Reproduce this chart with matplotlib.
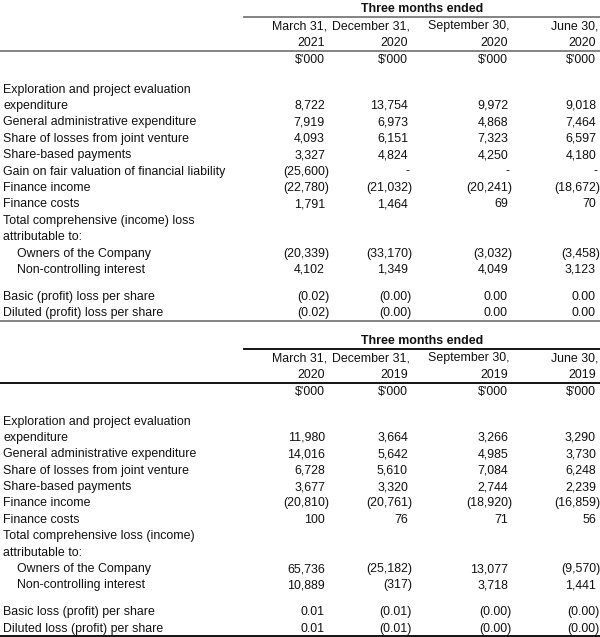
import numpy as np
import matplotlib.pyplot as plt

plt.rcParams['font.family'] = ['Liberation Sans', 'DejaVu Sans']

# ---- data: first table (periods ended 2020/2021) ----
top_months = ["March 31,", "December 31,", "September 30,", "June 30,"]
top_years = ["2021", "2020", "2020", "2020"]
top_items = ["Exploration and project evaluation\nexpenditure",
             "General administrative expenditure",
             "Share of losses from joint venture",
             "Share-based payments",
             "Gain on fair valuation of financial liability",
             "Finance income",
             "Finance costs",
             "Total comprehensive (income) loss\nattributable to:",
             "Owners of the Company",
             "Non-controlling interest",
             "Basic (profit) loss per share",
             "Diluted (profit) loss per share"]
# None = dash, -0.0 = "(0.00)"
mar21 = [8722, 7919, 4093, 3327, -25600, -22780, 1791, None, -20339, 4102, -0.02, -0.02]
dec20 = [13754, 6973, 6151, 4824, None, -21032, 1464, None, -33170, 1349, -0.0, -0.0]
sep20 = [9972, 4868, 7323, 4250, None, -20241, 69, None, -3032, 4049, 0.0, 0.0]
jun20 = [9018, 7464, 6597, 4180, None, -18672, 70, None, -3458, 3123, 0.0, 0.0]

# ---- data: second table (periods ended 2019/2020) ----
bot_months = ["March 31,", "December 31,", "September 30,", "June 30,"]
bot_years = ["2020", "2019", "2019", "2019"]
bot_items = ["Exploration and project evaluation\nexpenditure",
             "General administrative expenditure",
             "Share of losses from joint venture",
             "Share-based payments",
             "Finance income",
             "Finance costs",
             "Total comprehensive loss (income)\nattributable to:",
             "Owners of the Company",
             "Non-controlling interest",
             "Basic loss (profit) per share",
             "Diluted loss (profit) per share"]
mar20 = [11980, 14016, 6728, 3677, -20810, 100, None, 65736, 10889, 0.01, 0.01]
dec19 = [3664, 5642, 5610, 3320, -20761, 76, None, -25182, -317, -0.01, -0.01]
sep19 = [3266, 4985, 7084, 2744, -18920, 71, None, 13077, 3718, -0.0, -0.0]
jun19 = [3290, 3730, 6248, 2239, -16859, 56, None, -9570, 1441, -0.0, -0.0]

indented = {"Owners of the Company", "Non-controlling interest"}
header_rows = {"Total comprehensive (income) loss\nattributable to:",
               "Total comprehensive loss (income)\nattributable to:"}

col_right = [325, 408, 508, 596]
row_h = 16.4
fs = 8.9
ink = '#111111'


def fmt(v, is_eps):
    if v is None:
        return "-"
    neg = np.signbit(v)
    s = f"{abs(v):,.2f}" if is_eps else f"{abs(v):,.0f}"
    return f"({s})" if neg else s


def draw_table(ax, y0, months, years, items, cols, line_color, bottom_y):
    # header
    ax.text(422, y0 + 8 + 4.5, "Three months ended", ha='center', va='baseline',
            fontsize=fs, fontweight='bold', color=ink)
    ax.plot([244, 600], [y0 + 17, y0 + 17], color=line_color, lw=1.3)
    for i in range(4):
        ax.text(col_right[i] + 2, y0 + 25 + 4.5, months[i], ha='right',
                va='baseline', fontsize=fs, color=ink)
        ax.text(col_right[i], y0 + 42 + 4.5, years[i], ha='right',
                va='baseline', fontsize=fs, color=ink)
        ax.text(col_right[i], y0 + 59 + 4.5, "$'000", ha='right',
                va='baseline', fontsize=fs, color=ink)
    ax.plot([0, 600], [y0 + 51, y0 + 51], color=line_color, lw=1.3)

    y = y0 + 88
    for r, item in enumerate(items):
        lines = item.split("\n")
        if item.startswith("Basic"):
            y += 27 - row_h
        x = 17 if item in indented else 3
        for k, ln in enumerate(lines):
            ax.text(x, y + k * row_h + 4.5, ln, ha='left', va='baseline',
                    fontsize=fs, color=ink)
        yv = y + (len(lines) - 1) * row_h
        if item not in header_rows:
            is_eps = "per share" in item
            for c in range(4):
                v = cols[c][r]
                s = fmt(v, is_eps)
                xr = col_right[c]
                if v is None:
                    xr += 1
                elif s.startswith("("):
                    xr += 4
                ax.text(xr, yv + 4.5, s, ha='right', va='baseline',
                        fontsize=fs, color=ink)
        y += len(lines) * row_h
    ax.plot([0, 600], [bottom_y, bottom_y], color=line_color, lw=1.3)


fig = plt.figure(figsize=(6.0, 6.37), dpi=100)
ax = fig.add_axes([0, 0, 1, 1])
ax.set_xlim(0, 600)
ax.set_ylim(637, 0)
ax.axis('off')

draw_table(ax, 0, top_months, top_years, top_items,
           [mar21, dec20, sep20, jun20], '#7a7a7a', 321)
draw_table(ax, 332, bot_months, bot_years, bot_items,
           [mar20, dec19, sep19, jun19], '#000000', 635.5)

plt.savefig('out.png', dpi=100)
